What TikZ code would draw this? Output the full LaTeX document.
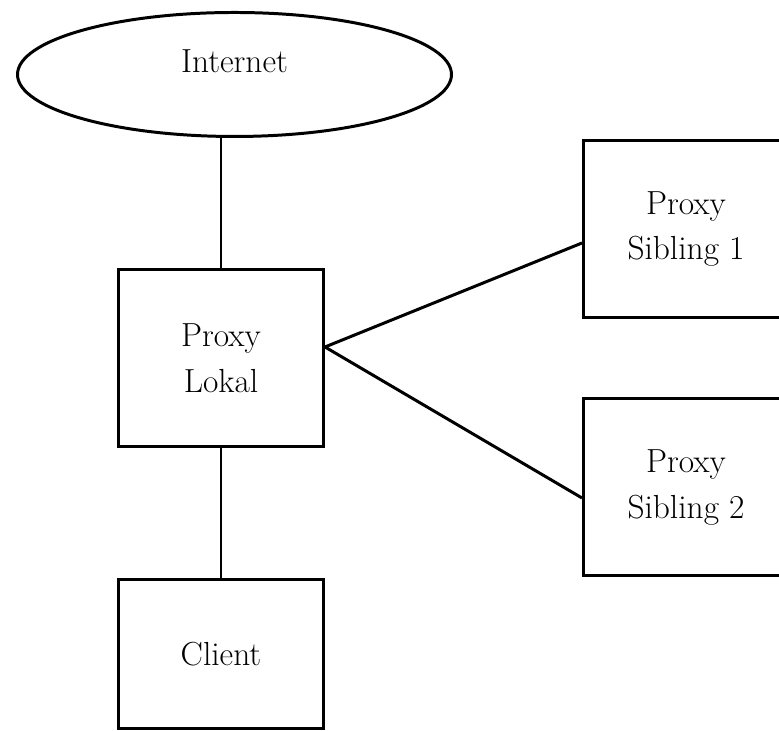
\documentclass[tikz,border=0pt]{standalone}
\usetikzlibrary{calc, shapes.geometric}
\tikzset{
  lbl/.style={font=\fontsize{19}{26}\selectfont, align=center},
  netcloud/.style={ellipse, draw=black, line width=1.7pt, inner sep=0pt,
                   minimum width=8.68cm, minimum height=2.48cm},
  proxybox/.style={rectangle, draw=black, line width=1.7pt, lbl, inner sep=0pt,
                   minimum width=4.1cm, minimum height=3.54cm},
  link/.style={line width=1.7pt, draw=black},
}
\begin{document}
\begin{tikzpicture}
\useasboundingbox (0,0) rectangle (15.58,14.62);
\clip (0,0) rectangle (15.58,14.62);

% Upstream
\node[netcloud] (internet) at (4.69,13.13) {};
\node[lbl] (inettext) at ($(internet.center)+(0,0.26)$) {Internet};

% Local proxy and its client
\node[proxybox] (lokal) at (4.42,7.46) {Proxy\\Lokal};
\node[proxybox, minimum height=2.98cm] (client) at (4.42,1.54) {Client};

% Sibling proxies (cut at the right border)
\node[proxybox] (sib1) at (13.72,10.04) {Proxy\\Sibling 1};
\node[proxybox] (sib2) at (13.72,4.87) {Proxy\\Sibling 2};

% Links
\draw[link] (lokal.north) -- (lokal.north |- internet.south);
\draw[link] (lokal.south) -- (client.north);
\draw[link] ([yshift=0.22cm]lokal.east) -- ([yshift=-0.28cm]sib1.west);
\draw[link] ([yshift=0.22cm]lokal.east) -- ([yshift=-0.21cm]sib2.west);

\end{tikzpicture}
\end{document}
